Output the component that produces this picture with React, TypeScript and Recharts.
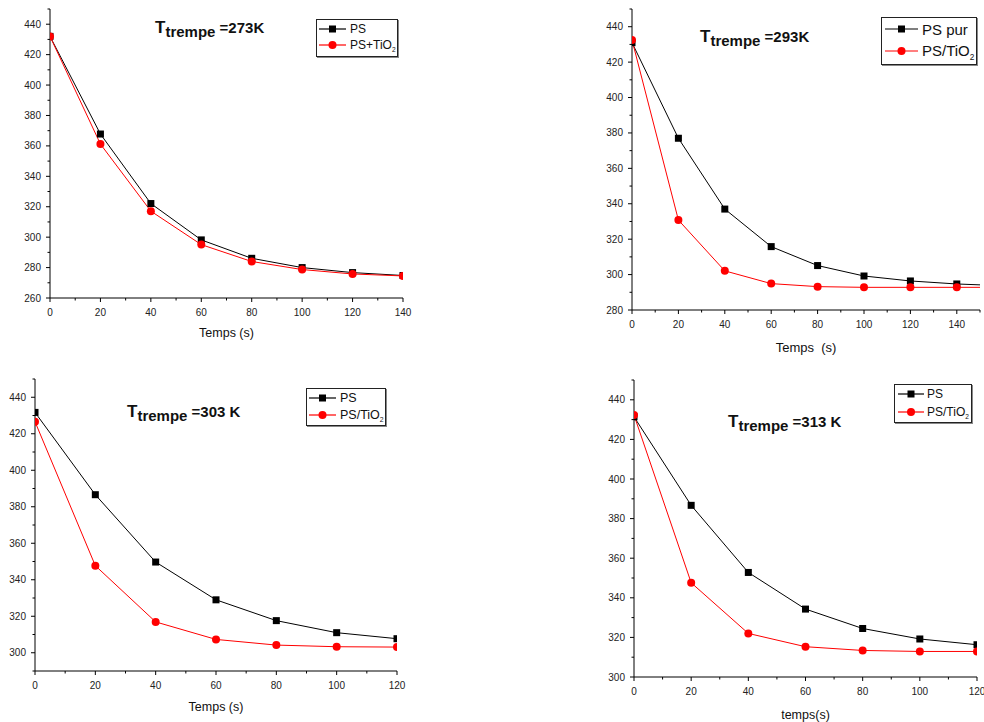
import React from 'react';
import { LineChart, Line, XAxis, YAxis, Legend, Customized } from 'recharts';

const FONT = '"Liberation Sans", Arial, Helvetica, sans-serif';

// T trempe = 273 K
const TIME_273 = [0, 20, 40, 60, 80, 100, 120, 140];
const PS_273 = [432, 367.8, 322.1, 298.2, 286.1, 280, 276.7, 274.8];
const TIO2_273 = [432, 361.2, 317.1, 295.1, 284, 278.7, 275.8, 274.5];

// T trempe = 293 K (the last point lies past the 150 s end, the lines run off the frame)
const TIME_293 = [0, 20, 40, 60, 80, 100, 120, 140, 160];
const PS_293 = [431, 377, 337, 315.8, 305.1, 299.2, 296.4, 294.7, 293.7];
const TIO2_293 = [432.5, 330.8, 302.1, 294.9, 293.2, 292.8, 292.8, 292.8, 292.8];

// T trempe = 303 K
const TIME_303 = [0, 20, 40, 60, 80, 100, 120];
const PS_303 = [431.7, 386.6, 349.7, 329, 317.6, 311, 307.7];
const TIO2_303 = [426.6, 347.7, 316.9, 307.3, 304.2, 303.3, 303.1];

// T trempe = 313 K
const TIME_313 = [0, 20, 40, 60, 80, 100, 120];
const PS_313 = [431.4, 386.7, 352.8, 334.3, 324.5, 319.2, 316.3];
const TIO2_313 = [432.3, 347.6, 322, 315.3, 313.4, 312.9, 312.9];

const steps = (from: number, to: number, step: number) => {
  const out: number[] = [];
  for (let v = from; v <= to + 1e-9; v += step) out.push(v);
  return out;
};

const toRows = (time: number[], ps: number[], tio2: number[]) =>
  time.map((t, i) => ({ t, ps: ps[i], tio2: tio2[i] }));

const TS = 4;
const TM = 5;

type Side = 'bottom' | 'left' | 'top' | 'right';

// draws major/minor tick marks itself, labels only on the majors
const makeTick = (side: Side, major: number, gap: number, labels: boolean) => (props: any) => {
  const { x, y, payload, index } = props;
  const v = payload.value;
  const isMajor = Math.abs(v % major) < 1e-6;
  const len = isMajor ? 4 : 2.5;
  const txt = { fontSize: 10, fontFamily: FONT, fill: '#222' };
  if (side === 'bottom') {
    const ay = y - TS - TM;
    return (
      <g key={`b-${index}`}>
        <line x1={x} x2={x} y1={ay} y2={ay + len} stroke="#000" />
        {labels && isMajor && (
          <text x={x} y={ay + gap} dy="0.35em" textAnchor="middle" {...txt}>{v}</text>
        )}
      </g>
    );
  }
  if (side === 'left') {
    const ax = x + TS + TM;
    return (
      <g key={`l-${index}`}>
        <line x1={ax - len} x2={ax} y1={y} y2={y} stroke="#000" />
        {labels && isMajor && (
          <text x={ax - gap} y={y} dy="0.35em" textAnchor="end" {...txt}>{v}</text>
        )}
      </g>
    );
  }
  if (side === 'top') {
    const ay = y + TS + TM;
    return <line key={`t-${index}`} x1={x} x2={x} y1={ay - len} y2={ay} stroke="#000" />;
  }
  const ax = x - TS - TM;
  return <line key={`r-${index}`} x1={ax} x2={ax + len} y1={y} y2={y} stroke="#000" />;
};

const squareDot = (p: any) => {
  if (p.cx == null || p.cy == null) return <g key={`s-${p.index}`} />;
  return <rect key={`s-${p.index}`} x={p.cx - 3.5} y={p.cy - 3.5} width={7} height={7} fill="#000" />;
};

const withSub = (name: string) => {
  const m = name.match(/^(.*TiO)2$/);
  if (!m) return name;
  return (
    <>
      {m[1]}
      <span style={{ fontSize: '0.55em', position: 'relative', top: '0.5em' }}>2</span>
    </>
  );
};

interface PanelCfg {
  key: string;
  box: { left: number; top: number; w: number; h: number };
  margin: { top: number; right: number; bottom: number; left: number };
  yAxisW: number;
  xAxisH: number;
  xDomain: [number, number];
  yDomain: [number, number];
  data: { t: number; ps: number; tio2: number }[];
  psName: string;
  tio2Name: string;
  temp: string;
  title: { x: number; y: number };
  legend: { x: number; y: number; w: number; h: number; rows: number[]; lineX: number; lineW: number; textX: number; fs: number };
  xTitle: string;
  xTitleFs: number;
  xTitleCenter: number;
}

const PANELS: PanelCfg[] = [
  {
    key: '273',
    box: { left: 0, top: 0, w: 416, h: 350 },
    margin: { top: 9, right: 13, bottom: 7, left: 5 },
    yAxisW: 45,
    xAxisH: 45,
    xDomain: [0, 140],
    yDomain: [260, 450],
    data: toRows(TIME_273, PS_273, TIO2_273),
    psName: 'PS',
    tio2Name: 'PS+TiO2',
    temp: '=273K',
    title: { x: 155, y: 33 },
    legend: { x: 316, y: 19, w: 82, h: 38, rows: [9, 25], lineX: 2, lineW: 27, textX: 33, fs: 12 },
    xTitle: 'Temps (s)',
    xTitleFs: 12.5,
    xTitleCenter: 35,
  },
  {
    key: '293',
    box: { left: 580, top: 0, w: 404, h: 360 },
    margin: { top: 9, right: 4, bottom: 5, left: 7 },
    yAxisW: 45,
    xAxisH: 45,
    xDomain: [0, 150],
    yDomain: [280, 450],
    data: toRows(TIME_293, PS_293, TIO2_293),
    psName: 'PS pur',
    tio2Name: 'PS/TiO2',
    temp: '=293K',
    title: { x: 700, y: 42 },
    legend: { x: 881, y: 17, w: 96, h: 48, rows: [11, 33], lineX: 3, lineW: 33, textX: 40, fs: 15 },
    xTitle: 'Temps\u00a0 (s)',
    xTitleFs: 13,
    xTitleCenter: 37,
  },
  {
    key: '303',
    box: { left: 0, top: 370, w: 412, h: 352 },
    margin: { top: 9, right: 15, bottom: 6, left: 5 },
    yAxisW: 30,
    xAxisH: 45,
    xDomain: [0, 120],
    yDomain: [290, 450],
    data: toRows(TIME_303, PS_303, TIO2_303),
    psName: 'PS',
    tio2Name: 'PS/TiO2',
    temp: '=303 K',
    title: { x: 127, y: 417 },
    legend: { x: 306, y: 388, w: 80, h: 38, rows: [9, 26], lineX: 2, lineW: 27, textX: 33, fs: 12.5 },
    xTitle: 'Temps (s)',
    xTitleFs: 12.5,
    xTitleCenter: 36,
  },
  {
    key: '313',
    box: { left: 580, top: 370, w: 404, h: 352 },
    margin: { top: 10, right: 7, bottom: 1, left: 9 },
    yAxisW: 45,
    xAxisH: 44,
    xDomain: [0, 120],
    yDomain: [300, 450],
    data: toRows(TIME_313, PS_313, TIO2_313),
    psName: 'PS',
    tio2Name: 'PS/TiO2',
    temp: '=313 K',
    title: { x: 728, y: 427 },
    legend: { x: 894, y: 384, w: 78, h: 39, rows: [9, 27], lineX: 3, lineW: 26, textX: 32, fs: 12 },
    xTitle: 'temps(s)',
    xTitleFs: 12.5,
    xTitleCenter: 38,
  },
];

const makeLegend = (cfg: PanelCfg) => (props: any) => {
  const lg = cfg.legend;
  const payload = props.payload || [];
  return (
    <div
      style={{
        position: 'relative',
        width: lg.w,
        height: lg.h,
        boxSizing: 'border-box',
        border: '1px solid #222',
        boxShadow: '1px 1px 0 #888',
        background: '#fff',
        fontFamily: FONT,
        fontSize: lg.fs,
        color: '#111',
      }}
    >
      {payload.map((e: any, i: number) => (
        <div key={e.value} style={{ position: 'absolute', left: 0, top: lg.rows[i] - 10, height: 20, width: lg.w }}>
          <svg width={lg.lineW} height={20} style={{ position: 'absolute', left: lg.lineX, top: 0 }}>
            <line x1={0} x2={lg.lineW} y1={10} y2={10} stroke={e.color} strokeWidth={1.2} />
            {e.type === 'square' ? (
              <rect x={lg.lineW / 2 - 3.5} y={6.5} width={7} height={7} fill={e.color} />
            ) : (
              <circle cx={lg.lineW / 2} cy={10} r={4} fill={e.color} />
            )}
          </svg>
          <span style={{ position: 'absolute', left: lg.textX, top: 10, transform: 'translateY(-50%)', whiteSpace: 'nowrap', lineHeight: 1 }}>
            {withSub(e.value)}
          </span>
        </div>
      ))}
    </div>
  );
};

function Panel({ cfg }: { cfg: PanelCfg }) {
  const { box, margin } = cfg;
  const xTicks = steps(cfg.xDomain[0], cfg.xDomain[1], 10);
  const yTicks = steps(cfg.yDomain[0], cfg.yDomain[1], 10);
  const tx = cfg.title.x - box.left;
  const ty = cfg.title.y - box.top;
  const axisCommon = {
    type: 'number' as const,
    allowDataOverflow: true,
    interval: 0 as const,
    tickLine: false,
    tickSize: TS,
    tickMargin: TM,
    axisLine: { stroke: '#000', strokeWidth: 1 },
  };

  return (
    <div style={{ position: 'absolute', left: box.left, top: box.top }}>
      <LineChart width={box.w} height={box.h} data={cfg.data} margin={margin}>
        <XAxis
          {...axisCommon}
          dataKey="t"
          domain={cfg.xDomain}
          ticks={xTicks}
          height={cfg.xAxisH}
          tick={makeTick('bottom', 20, 14.5, true)}
          label={{
            value: cfg.xTitle,
            position: 'insideTop',
            offset: cfg.xTitleCenter - 0.36 * cfg.xTitleFs,
            fontSize: cfg.xTitleFs,
            fontFamily: FONT,
            fill: '#111',
          }}
        />
        <XAxis
          {...axisCommon}
          xAxisId="top"
          orientation="top"
          domain={cfg.xDomain}
          ticks={xTicks}
          height={0}
          tick={makeTick('top', 20, 0, false)}
        />
        <YAxis
          {...axisCommon}
          domain={cfg.yDomain}
          ticks={yTicks}
          width={cfg.yAxisW}
          tick={makeTick('left', 20, 9, true)}
        />
        <YAxis
          {...axisCommon}
          yAxisId="right"
          orientation="right"
          domain={cfg.yDomain}
          ticks={yTicks}
          width={0}
          tick={makeTick('right', 20, 0, false)}
        />
        <Line
          dataKey="ps"
          name={cfg.psName}
          stroke="#000"
          strokeWidth={1}
          dot={squareDot}
          legendType="square"
          isAnimationActive={false}
        />
        <Line
          dataKey="tio2"
          name={cfg.tio2Name}
          stroke="#ff0000"
          strokeWidth={1}
          dot={{ r: 4, fill: '#ff0000', stroke: '#ff0000', strokeWidth: 0 }}
          legendType="circle"
          isAnimationActive={false}
        />
        <Legend
          layout="horizontal"
          align="center"
          verticalAlign="middle"
          content={makeLegend(cfg)}
          wrapperStyle={{
            left: cfg.legend.x - box.left,
            top: cfg.legend.y - box.top,
            width: cfg.legend.w,
            height: cfg.legend.h,
          }}
        />
        <Customized
          component={() => (
            <text x={tx} y={ty} fontFamily={FONT} fontWeight="bold" fill="#111">
              <tspan fontSize={17}>T</tspan>
              <tspan fontSize={15} dy={4}>trempe</tspan>
              <tspan fontSize={15} dy={-4}>{'\u00a0' + cfg.temp}</tspan>
            </text>
          )}
        />
      </LineChart>
    </div>
  );
}

export default function App() {
  return (
    <div
      style={{
        position: 'absolute',
        left: 0,
        top: 0,
        width: 984,
        height: 722,
        background: '#fff',
        overflow: 'hidden',
      }}
    >
      {PANELS.map((p) => (
        <Panel key={p.key} cfg={p} />
      ))}
    </div>
  );
}
